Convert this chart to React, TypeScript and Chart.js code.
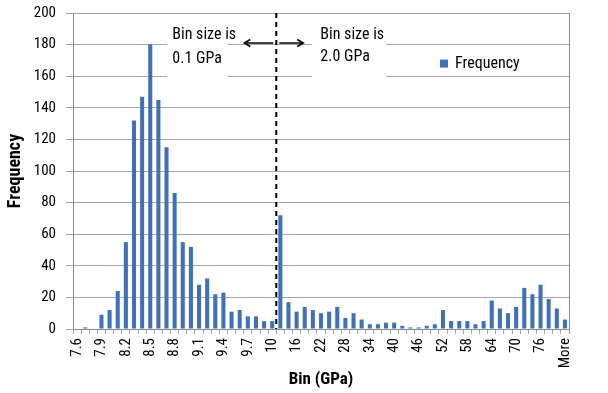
import React, { useEffect, useRef } from 'react';
import { Chart, registerables } from 'chart.js';
Chart.register(...registerables);

const fineBins = ['7.6','7.7','7.8','7.9','8.0','8.1','8.2','8.3','8.4','8.5','8.6','8.7','8.8','8.9','9.0','9.1','9.2','9.3','9.4','9.5','9.6','9.7','9.8','9.9','10'];
const coarseBins = ['12','14','16','18','20','22','24','26','28','30','32','34','36','38','40','42','44','46','48','50','52','54','56','58','60','62','64','66','68','70','72','74','76','78','80'];
const moreBin = ['More'];
const categories = [...fineBins, ...coarseBins, ...moreBin];

const fineFreq = [0,1,0,9,12,24,55,132,147,180,145,115,86,55,52,28,32,22,23,11,12,8,8,5,5];
const coarseFreq = [72,17,11,14,12,10,11,14,7,10,6,3,3,4,4,2,1,1,2,3,12,5,5,5,3,5,18,13,10,14,26,22,28,19,13];
const moreFreq = [6];
const frequency = [...fineFreq, ...coarseFreq, ...moreFreq];

const yTicks = { min: 0, max: 200, step: 20 };
const leftNote = ['Bin size is', '0.1 GPa'];
const rightNote = ['Bin size is', '2.0 GPa'];
const seriesName = 'Frequency';

const FONT = "'Liberation Sans Narrow', 'Roboto Condensed', 'Liberation Sans', Arial, sans-serif";
const BAR = '#4070B5';
const GRID = '#A6A6A6';
const INK = '#000';

const overlay = {
  id: 'overlay',
  afterDatasetsDraw(chart: any) {
    const { ctx, chartArea: a, scales } = chart;
    const x = scales.x, y = scales.y;
    ctx.save();
    ctx.strokeStyle = '#8C8C8C';
    ctx.lineWidth = 1;
    ctx.beginPath();
    ctx.moveTo(a.right + 0.5, a.top);
    ctx.lineTo(a.right + 0.5, a.bottom);
    ctx.stroke();

    const split = (x.getPixelForValue(fineBins.length - 1) + x.getPixelForValue(fineBins.length)) / 2;
    ctx.fillStyle = '#fff';
    ctx.fillRect(split - 109, y.getPixelForValue(191), 60, y.getPixelForValue(150) - y.getPixelForValue(191));
    ctx.fillRect(split + 36, y.getPixelForValue(191), 74, y.getPixelForValue(150) - y.getPixelForValue(191));

    ctx.strokeStyle = '#000';
    ctx.lineWidth = 2;
    ctx.setLineDash([5, 4]);
    ctx.beginPath();
    ctx.moveTo(split, a.top);
    ctx.lineTo(split, a.bottom);
    ctx.stroke();
    ctx.setLineDash([]);

    const ay = y.getPixelForValue(181);
    ctx.lineWidth = 1.5;
    const arrow = (x0: number, x1: number) => {
      ctx.beginPath();
      ctx.moveTo(x0, ay);
      ctx.lineTo(x1, ay);
      ctx.stroke();
      const d = x1 > x0 ? -1 : 1;
      ctx.beginPath();
      ctx.moveTo(x1 + d * 6, ay - 3.5);
      ctx.lineTo(x1, ay);
      ctx.lineTo(x1 + d * 6, ay + 3.5);
      ctx.stroke();
    };
    arrow(split - 3, split - 32);
    arrow(split + 3, split + 27);

    ctx.fillStyle = INK;
    ctx.font = `16px ${FONT}`;
    ctx.textBaseline = 'middle';
    ctx.textAlign = 'left';
    ctx.fillText(leftNote[0], split - 104, y.getPixelForValue(186));
    ctx.fillText(leftNote[1], split - 104, y.getPixelForValue(171));
    ctx.fillText(rightNote[0], split + 44, y.getPixelForValue(186));
    ctx.fillText(rightNote[1], split + 44, y.getPixelForValue(172));

    const ly = y.getPixelForValue(168);
    ctx.fillStyle = BAR;
    ctx.fillRect(a.right - 129, ly - 4, 8, 8);
    ctx.fillStyle = INK;
    ctx.font = `16px ${FONT}`;
    ctx.fillText(chart.data.datasets[0].label, a.right - 114, ly);
    ctx.restore();
  },
};

export default function App() {
  const ref = useRef<HTMLCanvasElement>(null);
  useEffect(() => {
    document.body.style.margin = '0';
    const chart = new Chart(ref.current as HTMLCanvasElement, {
      type: 'bar',
      data: {
        labels: categories,
        datasets: [{
          label: seriesName,
          data: frequency,
          backgroundColor: BAR,
          barPercentage: 0.5,
          categoryPercentage: 1,
        }],
      },
      options: {
        animation: false,
        responsive: false,
        layout: { padding: { top: 13, right: 39, left: 0, bottom: 0 } },
        plugins: { legend: { display: false }, tooltip: { enabled: false } },
        scales: {
          x: {
            offset: true,
            grid: { offset: true, drawOnChartArea: false, color: GRID, tickLength: 5 },
            border: { color: '#8C8C8C' },
            ticks: {
              autoSkip: false,
              maxRotation: 90,
              minRotation: 90,
              padding: 4,
              color: INK,
              font: { family: FONT, size: 15 },
              callback: (_v: any, i: number) => (i % 3 === 0 ? categories[i] : ''),
            },
            title: {
              display: true,
              text: 'Bin (GPa)',
              color: INK,
              font: { family: FONT, size: 17, weight: 'bold' },
              padding: { top: 0, bottom: 3 },
            },
            afterFit: (s: any) => { s.height = 64; s.paddingLeft = 0; s.paddingRight = 0; },
          },
          y: {
            min: yTicks.min,
            max: yTicks.max,
            grid: { color: GRID, tickLength: 7 },
            border: { color: '#8C8C8C' },
            ticks: {
              stepSize: yTicks.step,
              padding: 10,
              color: INK,
              font: { family: FONT, size: 15 },
            },
            title: {
              display: true,
              text: 'Frequency',
              color: INK,
              font: { family: FONT, size: 18, weight: 'bold' },
              padding: { top: 5, bottom: 0 },
            },
            afterFit: (s: any) => { s.width = 73; s.paddingTop = 0; s.paddingBottom = 0; },
          },
        },
      },
      plugins: [overlay],
    });
    return () => chart.destroy();
  }, []);
  return (
    <div style={{ width: 608, height: 393, background: '#fff' }}>
      <canvas ref={ref} width={608} height={393} />
    </div>
  );
}
